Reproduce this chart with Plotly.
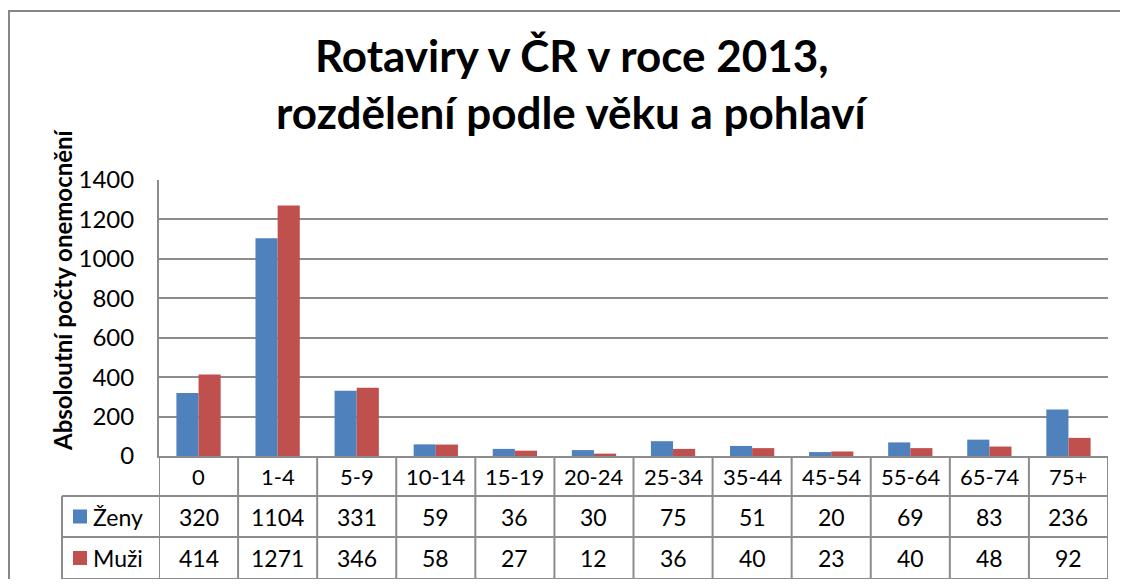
import plotly.graph_objects as go

categories = ["0", "1-4", "5-9", "10-14", "15-19", "20-24", "25-34", "35-44", "45-54", "55-64", "65-74", "75+"]
zeny = [320, 1104, 331, 59, 36, 30, 75, 51, 20, 69, 83, 236]
muzi = [414, 1271, 346, 58, 27, 12, 36, 40, 23, 40, 48, 92]
y_ticks = [0, 200, 400, 600, 800, 1000, 1200, 1400]
series_names = ["Ženy", "Muži"]
title_lines = ["Rotaviry v ČR v roce 2013,", "rozdělení podle věku a pohlaví"]
y_title = "Absoloutní počty onemocnění"

BLUE = "#4F81BD"
RED = "#C0504D"
GRID = "#8C8C8C"
FONT = "Lato"

OFF = 8  # page body margin
W, H = 1128 - OFF, 587 - 2 * OFF
# plot area in page pixels: x 159..1108, y 180..456
L = 159 - OFF
R = W - (1108 - OFF)
T = 180 - OFF
B = H - (456 - OFF)
PW, PH = W - L - R, H - T - B


def px_x(p):
    """page x pixel -> paper coordinate"""
    return (p - OFF - L) / PW


def px_y(p):
    """page y pixel -> paper coordinate"""
    return (H - B - (p - OFF)) / PH


xs = list(range(len(categories)))

fig = go.Figure()
fig.add_trace(go.Bar(x=xs, y=zeny, name=series_names[0], marker=dict(color=BLUE, line=dict(width=0))))
fig.add_trace(go.Bar(x=xs, y=muzi, name=series_names[1], marker=dict(color=RED, line=dict(width=0))))

shapes = []
annotations = []

# outer chart border (top and left edges visible)
shapes.append(dict(type="line", xref="paper", yref="paper",
                   x0=px_x(8), x1=px_x(1127), y0=px_y(11), y1=px_y(11),
                   line=dict(color="#868686", width=2), layer="below"))
shapes.append(dict(type="line", xref="paper", yref="paper",
                   x0=px_x(9), x1=px_x(9), y0=px_y(11), y1=px_y(586),
                   line=dict(color="#868686", width=2), layer="below"))

# table rows (page pixel bounds)
row_top = [456, 496, 537]
row_bot = [496, 537, 579]
for i in range(len(categories) + 1):
    shapes.append(dict(type="line", xref="x", yref="paper", x0=i - 0.5, x1=i - 0.5,
                       y0=px_y(456), y1=px_y(579), line=dict(color=GRID, width=2)))
shapes.append(dict(type="line", xref="paper", yref="paper", x0=px_x(62), x1=px_x(62),
                   y0=px_y(496), y1=px_y(579), line=dict(color=GRID, width=2)))
for yy in [496, 537, 579]:
    shapes.append(dict(type="line", xref="paper", yref="paper", x0=px_x(62), x1=1,
                       y0=px_y(yy), y1=px_y(yy), line=dict(color=GRID, width=2)))
# legend keys
for k, col in enumerate([BLUE, RED]):
    cy = (row_top[k + 1] + row_bot[k + 1]) / 2
    shapes.append(dict(type="rect", xref="paper", yref="paper",
                       x0=px_x(73), x1=px_x(87), y0=px_y(cy + 7), y1=px_y(cy - 7),
                       fillcolor=col, line=dict(width=0)))
    annotations.append(dict(xref="paper", yref="paper", x=px_x(91), y=px_y(cy),
                            xanchor="left", yanchor="middle", showarrow=False,
                            text=series_names[k], font=dict(family=FONT, size=23, color="#000")))

hc = (row_top[0] + row_bot[0]) / 2
for i, c in enumerate(categories):
    annotations.append(dict(xref="x", yref="paper", x=i, y=px_y(hc), xanchor="center",
                            yanchor="middle", showarrow=False, text=c,
                            font=dict(family=FONT, size=22, color="#000")))
for k, vals in enumerate([zeny, muzi]):
    cy = (row_top[k + 1] + row_bot[k + 1]) / 2
    for i, v in enumerate(vals):
        annotations.append(dict(xref="x", yref="paper", x=i, y=px_y(cy), xanchor="center",
                                yanchor="middle", showarrow=False, text=str(v),
                                font=dict(family=FONT, size=23, color="#000")))

# title (two lines)
for line, mid in zip(title_lines, [55, 112]):
    annotations.append(dict(xref="paper", yref="paper", x=px_x(572), y=px_y(mid),
                            xanchor="center", yanchor="middle", showarrow=False,
                            text="<b>" + line + "</b>",
                            font=dict(family=FONT, size=44, color="#000")))

# y axis title
annotations.append(dict(xref="paper", yref="paper", x=px_x(62), y=px_y(290),
                        xanchor="center", yanchor="middle", showarrow=False, textangle=-90,
                        text="<b>" + y_title + "</b>",
                        font=dict(family=FONT, size=24, color="#000")))

fig.update_layout(
    width=W, height=H,
    margin=dict(l=L, r=R, t=T, b=B, autoexpand=False),
    paper_bgcolor="white", plot_bgcolor="white",
    barmode="group", bargap=0.44, bargroupgap=0,
    showlegend=False,
    shapes=shapes, annotations=annotations,
    xaxis=dict(range=[-0.5, len(categories) - 0.5], showticklabels=False, showgrid=False,
               zeroline=False, showline=True, linecolor=GRID, linewidth=2, ticks=""),
    yaxis=dict(range=[0, 1400], tickvals=y_ticks, showgrid=True, gridcolor=GRID, gridwidth=1.5,
               zeroline=False, showline=True, linecolor=GRID, linewidth=2, ticks="",
               ticklabelstandoff=18,
               tickfont=dict(family=FONT, size=24, color="#000")),
)

fig.write_html("out.html")
